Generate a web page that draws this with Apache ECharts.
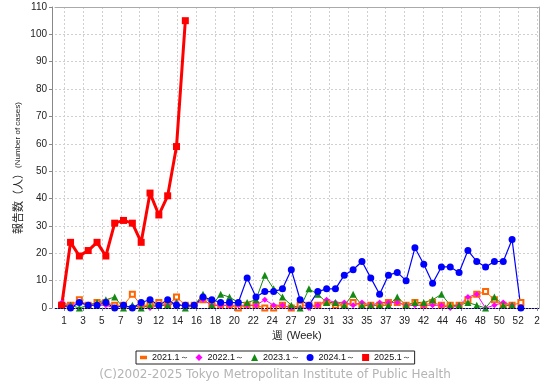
<!DOCTYPE html>
<html><head><meta charset="utf-8">
<script src="https://cdn.jsdelivr.net/npm/echarts@6/dist/echarts.min.js"></script>
<style>html,body{margin:0;padding:0;background:#fff}#c{width:550px;height:386px}</style>
</head><body><div id="c"></div>
<script>
// week numbers (x) for each series
const weeks = [1,2,3,4,5,6,7,8,9,10,11,12,13,14,15,16,17,18,19,20,21,22,23,24,25,26,27,28,29,30,31,32,33,34,35,36,37,38,39,40,41,42,43,44,45,46,47,48,49,50,51,52,53];
// x-axis tick labels (week of each semi-monthly tick)
const tickLabels = ['1','3','5','7','9','12','14','16','18','20','22','24','27','29','31','33','35','37','39','42','44','46','48','50','52','2'];
const yTickLabels = [0,10,20,30,40,50,60,70,80,90,100,110];
const seriesNames = ['2021.1～','2022.1～','2023.1～','2024.1～','2025.1～'];
const v2021 = [1,1,3,1,2,2,1,1,5,1,1,2,1,4,1,1,3,1,1,1,0,1,1,0,0,1,0,1,1,1,2,1,1,2,1,1,1,2,2,1,2,1,2,1,1,1,3,5,6,3,1,1,2];
const v2022 = [2,1,2,1,1,1,0,1,0,1,0,1,1,2,0,1,3,1,1,1,1,1,1,3,1,1,0,0,0,1,3,2,2,1,2,1,2,2,2,1,1,1,1,1,0,1,4,5,0,1,2,1];
const v2023 = [1,1,0,1,2,3,4,0,1,0,1,1,1,2,0,1,5,1,5,4,2,2,3,12,7,4,1,0,7,5,2,2,1,5,1,1,1,1,4,1,2,2,3,5,1,1,2,1,0,4,1,1];
const v2024 = [1,0,2,1,1,2,0,1,0,2,3,1,3,1,1,1,4,3,2,2,2,11,4,6,6,7,14,3,1,6,7,7,12,14,17,11,5,12,13,10,22,16,9,15,15,13,21,17,15,17,17,25,0];
const v2025 = [1,24,19,21,24,19,31,32,31,24,42,34,41,59,105];

const TICK0 = 1.26, TICKSTEP = 15/7;
const tickVals = tickLabels.map((_, i) => TICK0 + i * TICKSTEP);
const pairs = vals => vals.map((v, i) => [weeks[i], v]);
const FONT = 'Liberation Sans';

const chart = echarts.init(document.getElementById('c'), null, {renderer: 'canvas'});
const mk = (name, vals, color, symbol, size, width, extra) => Object.assign({
  name, type: 'line', data: pairs(vals), symbol, symbolSize: size,
  showSymbol: true, animation: false,
  lineStyle: {color, width}, itemStyle: {color}
}, extra || {});

chart.setOption({
  animation: false,
  grid: {left: 55, right: 11, top: 7, bottom: 78, containLabel: false},
  textStyle: {fontFamily: FONT},
  xAxis: [{
    type: 'value', min: 0.24, max: 55.05,
    offset: 4,
    name: '週 (Week)', nameLocation: 'middle', nameGap: 18,
    nameTextStyle: {fontSize: 11, color: '#222', fontFamily: FONT},
    axisLine: {show: true, lineStyle: {color: '#888', width: 1}},
    axisTick: {show: true, length: 3, customValues: tickVals, lineStyle: {color: '#888'}},
    axisLabel: {customValues: tickVals, fontSize: 10, color: '#222', margin: 4,
      formatter: v => { let best = 0; tickVals.forEach((t, i) => { if (Math.abs(t - v) < Math.abs(tickVals[best] - v)) best = i; }); return tickLabels[best]; }},
    splitLine: {show: true, lineStyle: {color: '#d0d0d0', type: [2, 2], width: 1}}
  }, {
    type: 'value', position: 'top', min: 0.24, max: 55.05,
    axisLine: {show: true, onZero: false, lineStyle: {color: '#aaa'}},
    axisTick: {show: false}, axisLabel: {show: false}, splitLine: {show: false}
  }],
  yAxis: [{
    type: 'value', min: 0, max: 110, interval: 10, offset: 3,
    axisLine: {show: true, lineStyle: {color: '#888', width: 1}},
    axisTick: {show: true, length: 3, lineStyle: {color: '#888'}},
    axisLabel: {fontSize: 10, color: '#222', margin: 5,
      formatter: v => String(yTickLabels[Math.round(v / 10)])},
    splitLine: {show: true, lineStyle: {color: '#d0d0d0', type: [2, 2], width: 1}}
  }, {
    type: 'value', position: 'right', min: 0, max: 110,
    axisLine: {show: true, lineStyle: {color: '#aaa'}},
    axisTick: {show: false}, axisLabel: {show: false}, splitLine: {show: false}
  }],
  legend: {
    left: 136, top: 351, orient: 'horizontal',
    itemWidth: 7, itemHeight: 7, itemGap: 7,
    borderColor: '#222', borderWidth: 1, padding: [2, 4, 2, 4],
    textStyle: {fontSize: 9, color: '#111', fontFamily: FONT},
    data: [
      {name: seriesNames[0], icon: 'path://M0,0h10v5h-10z'},
      {name: seriesNames[1], icon: 'diamond'},
      {name: seriesNames[2], icon: 'triangle'},
      {name: seriesNames[3], icon: 'circle'},
      {name: seriesNames[4], icon: 'rect'}
    ]
  },
  graphic: [{
    type: 'text', left: 'center', top: 369,
    style: {text: '(C)2002-2025 Tokyo Metropolitan Institute of Public Health', fontSize: 12, fontFamily: 'DejaVu Sans', fill: '#b4b4b4'}
  }, {
    type: 'text', x: 18, y: 168, rotation: Math.PI / 2,
    style: {
      text: '{a|報告数（人）}{b|(Number of cases)}', align: 'center', verticalAlign: 'middle',
      rich: {a: {fontSize: 11, fontFamily: 'Noto Sans CJK JP', fill: '#222'}, b: {fontSize: 8, fontFamily: FONT, fill: '#222'}}
    }
  }],
  series: [
    mk(seriesNames[0], v2021, '#ff6600', 'emptyRect', 5, 1),
    mk(seriesNames[1], v2022, '#ff00ff', 'diamond', 6, 1),
    mk(seriesNames[2], v2023, '#138a13', 'triangle', 7, 1),
    mk(seriesNames[3], v2024, '#0000ff', 'circle', 7, 1.2),
    mk(seriesNames[4], v2025, '#ff0000', 'rect', 7, 3, {
      markLine: {silent: true, symbol: 'none', label: {show: false},
        lineStyle: {color: '#000080', type: [2, 1], width: 1}, data: [{yAxis: 0}]}
    })
  ]
});
</script></body></html>
